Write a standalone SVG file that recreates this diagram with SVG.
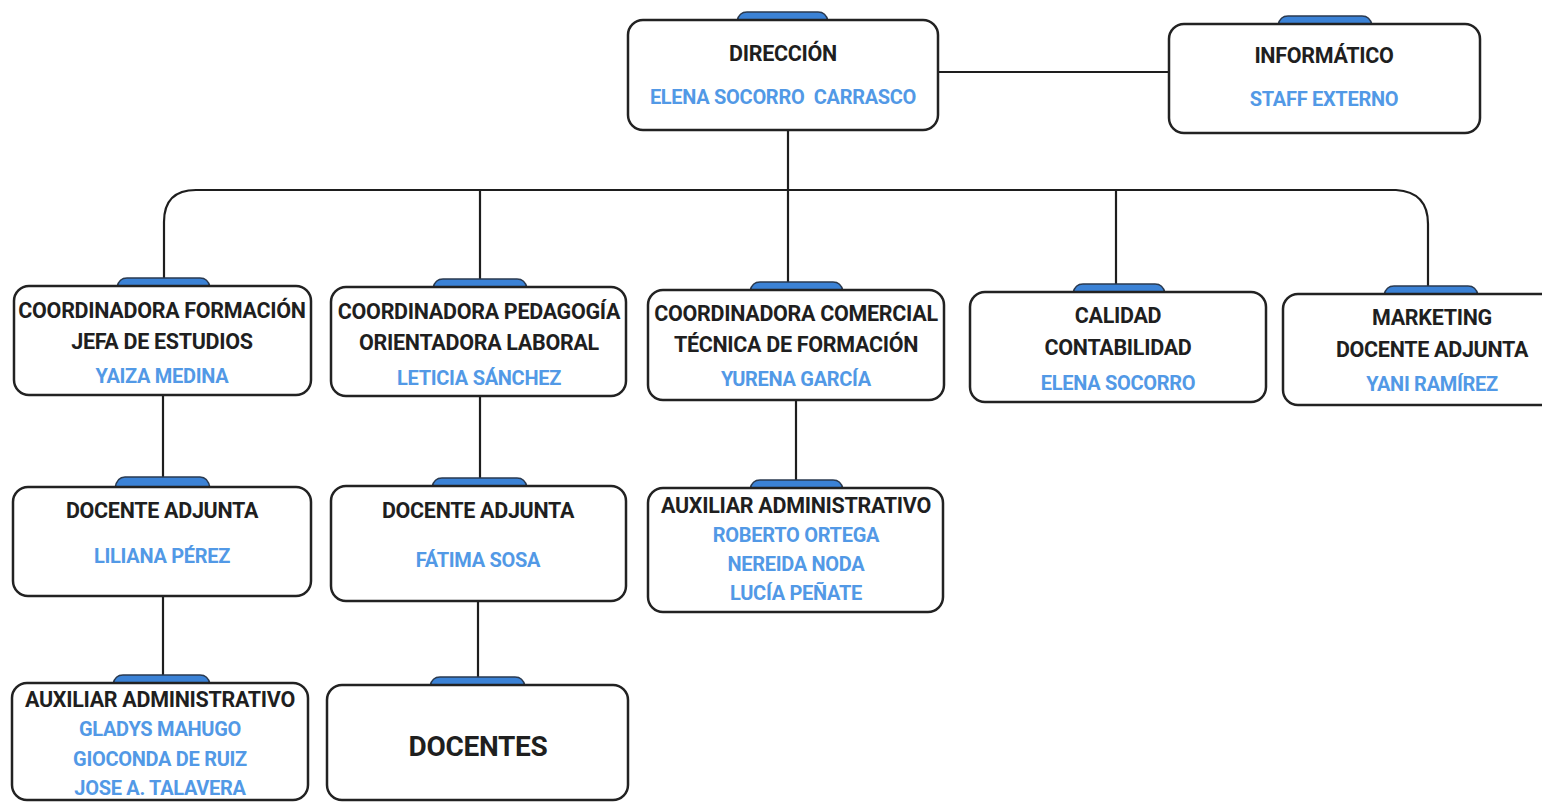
<svg xmlns="http://www.w3.org/2000/svg" width="1542" height="803" viewBox="0 0 1542 803">
<style>
.box{fill:#fff;stroke:#222;stroke-width:2.5}
.tab{fill:#3b82d6;stroke:#2a3a50;stroke-width:1.5}
.ln{fill:none;stroke:#1e1e1e;stroke-width:2.2}
.t{font-family:Roboto,"Liberation Sans",sans-serif;font-weight:700;font-size:21.5px;fill:#1f1f1f;text-anchor:middle;letter-spacing:-0.3px}
.n{font-family:Roboto,"Liberation Sans",sans-serif;font-weight:700;font-size:20px;fill:#5299e6;text-anchor:middle;letter-spacing:-0.3px}
.big{font-size:28px}
</style>
<rect width="1542" height="803" fill="#fff"/>
<g id="connectors">
<path class="ln" d="M938 72 H1169"/>
<path class="ln" d="M788 130 V288"/>
<path class="ln" d="M164 280 V222 Q164 190 196 190 H1396 Q1428 192 1428 224 V290"/>
<path class="ln" d="M480 190 V280"/>
<path class="ln" d="M1116 191 V285"/>
<path class="ln" d="M163 395 V478"/>
<path class="ln" d="M163 596 V675"/>
<path class="ln" d="M480 396 V479"/>
<path class="ln" d="M478 601 V677"/>
<path class="ln" d="M796 400 V481"/>
</g>
<g id="direccion">
<path class="tab" d="M737 21 Q739 12 747 12 H818 Q826 12 828 21 Z"/>
<rect class="box" x="628" y="20" width="310" height="110" rx="15"/>
<text class="t" x="783" y="61">DIRECCIÓN</text>
<text class="n" x="783" y="104" xml:space="preserve">ELENA SOCORRO  CARRASCO</text>
</g>
<g id="informatico">
<path class="tab" d="M1278 25 Q1280 16 1288 16 H1362 Q1370 16 1372 25 Z"/>
<rect class="box" x="1169" y="24" width="311" height="109" rx="15"/>
<text class="t" x="1324" y="63">INFORMÁTICO</text>
<text class="n" x="1324" y="106">STAFF EXTERNO</text>
</g>
<g id="formacion">
<path class="tab" d="M117 287 Q119 278 127 278 H200 Q208 278 210 287 Z"/>
<rect class="box" x="14" y="286" width="297" height="109" rx="15"/>
<text class="t" x="162" y="318">COORDINADORA FORMACIÓN</text>
<text class="t" x="162" y="349">JEFA DE ESTUDIOS</text>
<text class="n" x="162" y="383">YAIZA MEDINA</text>
</g>
<g id="pedagogia">
<path class="tab" d="M433 288 Q435 279 443 279 H517 Q525 279 527 288 Z"/>
<rect class="box" x="331" y="287" width="295" height="109" rx="15"/>
<text class="t" x="479" y="319">COORDINADORA PEDAGOGÍA</text>
<text class="t" x="479" y="350">ORIENTADORA LABORAL</text>
<text class="n" x="479" y="385">LETICIA SÁNCHEZ</text>
</g>
<g id="comercial">
<path class="tab" d="M750 291 Q752 282 760 282 H833 Q841 282 843 291 Z"/>
<rect class="box" x="648" y="290" width="296" height="110" rx="15"/>
<text class="t" x="796" y="321">COORDINADORA COMERCIAL</text>
<text class="t" x="796" y="352">TÉCNICA DE FORMACIÓN</text>
<text class="n" x="796" y="386">YURENA GARCÍA</text>
</g>
<g id="calidad">
<path class="tab" d="M1073 293 Q1075 284 1083 284 H1155 Q1163 284 1165 293 Z"/>
<rect class="box" x="970" y="292" width="296" height="110" rx="15"/>
<text class="t" x="1118" y="323">CALIDAD</text>
<text class="t" x="1118" y="355">CONTABILIDAD</text>
<text class="n" x="1118" y="390">ELENA SOCORRO</text>
</g>
<g id="marketing">
<path class="tab" d="M1384 295 Q1386 286 1394 286 H1468 Q1476 286 1478 295 Z"/>
<rect class="box" x="1283" y="294" width="275" height="111" rx="15"/>
<text class="t" x="1432" y="325">MARKETING</text>
<text class="t" x="1432" y="357">DOCENTE ADJUNTA</text>
<text class="n" x="1432" y="391">YANI RAMÍREZ</text>
</g>
<g id="docente-liliana">
<path class="tab" d="M115 488 Q117 477 125 477 H200 Q208 477 210 488 Z"/>
<rect class="box" x="13" y="487" width="298" height="109" rx="15"/>
<text class="t" x="162" y="518">DOCENTE ADJUNTA</text>
<text class="n" x="162" y="563">LILIANA PÉREZ</text>
</g>
<g id="docente-fatima">
<path class="tab" d="M432 487 Q434 478 442 478 H517 Q525 478 527 487 Z"/>
<rect class="box" x="331" y="486" width="295" height="115" rx="15"/>
<text class="t" x="478" y="518">DOCENTE ADJUNTA</text>
<text class="n" x="478" y="567">FÁTIMA SOSA</text>
</g>
<g id="auxiliar-comercial">
<path class="tab" d="M750 489 Q752 480 760 480 H833 Q841 480 843 489 Z"/>
<rect class="box" x="648" y="488" width="295" height="124" rx="15"/>
<text class="t" x="796" y="513">AUXILIAR ADMINISTRATIVO</text>
<text class="n" x="796" y="542">ROBERTO ORTEGA</text>
<text class="n" x="796" y="571">NEREIDA NODA</text>
<text class="n" x="796" y="600">LUCÍA PEÑATE</text>
</g>
<g id="auxiliar-formacion">
<path class="tab" d="M113 684 Q115 675 123 675 H200 Q208 675 210 684 Z"/>
<rect class="box" x="12" y="683" width="296" height="117" rx="15"/>
<text class="t" x="160" y="707">AUXILIAR ADMINISTRATIVO</text>
<text class="n" x="160" y="736">GLADYS MAHUGO</text>
<text class="n" x="160" y="766">GIOCONDA DE RUIZ</text>
<text class="n" x="160" y="795">JOSE A. TALAVERA</text>
</g>
<g id="docentes">
<path class="tab" d="M430 686 Q432 677 440 677 H515 Q523 677 525 686 Z"/>
<rect class="box" x="327" y="685" width="301" height="115" rx="15"/>
<text class="t big" x="478" y="756">DOCENTES</text>
</g>
</svg>
